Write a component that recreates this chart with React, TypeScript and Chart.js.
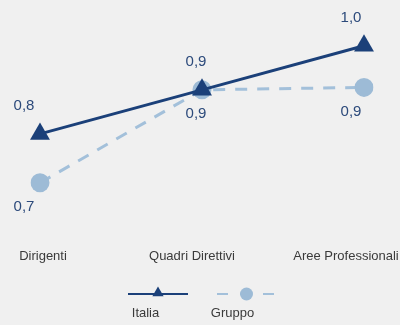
import React, { useEffect, useRef } from "react";
import { Chart, registerables } from "chart.js";

Chart.register(...registerables);

// Categories and series
const categories = ["Dirigenti", "Quadri Direttivi", "Aree Professionali"];
const italia = [0.8, 0.89, 0.98];
const gruppo = [0.7, 0.89, 0.895];
const seriesNames = ["Italia", "Gruppo"];

// Colours and fonts
const NAVY = "#1b4079";
const LIGHT = "#9dbbd6";
const LIGHT_LINE = "#a3c0da";
const VALUE_TEXT = "#2c4a7b";
const AXIS_TEXT = "#3a3a3a";
const BG = "#f0f0f0";
const FONT = "'Liberation Sans', Arial, sans-serif";

// Horizontal nudges for value labels and category labels (per category)
const valueDx = [-16, -6, -13];
const categoryDx = [3, -10, -18];

const fmt = (v: number) => v.toFixed(1).replace(".", ",");

const decorations = {
  id: "decorations",
  beforeDraw(chart: any) {
    const { ctx, width, height } = chart;
    ctx.save();
    ctx.fillStyle = BG;
    ctx.fillRect(0, 0, width, height);
    ctx.restore();
  },
  afterDraw(chart: any) {
    const { ctx } = chart;
    const x = chart.scales.x;
    ctx.save();

    // value labels: Italia above, Gruppo below
    ctx.font = `15px ${FONT}`;
    ctx.fillStyle = VALUE_TEXT;
    ctx.textAlign = "center";
    ctx.textBaseline = "middle";
    chart.data.datasets.forEach((ds: any, di: number) => {
      const meta = chart.getDatasetMeta(di);
      meta.data.forEach((pt: any, i: number) => {
        const dy = di === 0 ? -28 : 24;
        ctx.fillText(fmt(ds.data[i]), pt.x + valueDx[i], pt.y + dy);
      });
    });

    // category labels
    ctx.font = `13px ${FONT}`;
    ctx.fillStyle = AXIS_TEXT;
    categories.forEach((c, i) => {
      ctx.fillText(c, x.getPixelForValue(i) + categoryDx[i], 256);
    });

    // legend
    const ly = 294;
    // Italia
    ctx.strokeStyle = NAVY;
    ctx.lineWidth = 2;
    ctx.beginPath();
    ctx.moveTo(128, ly);
    ctx.lineTo(188, ly);
    ctx.stroke();
    const r = 6.5;
    const tx = 158;
    const ty = ly - 1;
    ctx.fillStyle = NAVY;
    ctx.beginPath();
    ctx.moveTo(tx, ty - r);
    ctx.lineTo(tx + r * Math.sin((2 * Math.PI) / 3), ty - r * Math.cos((2 * Math.PI) / 3));
    ctx.lineTo(tx + r * Math.sin((4 * Math.PI) / 3), ty - r * Math.cos((4 * Math.PI) / 3));
    ctx.closePath();
    ctx.fill();
    // Gruppo
    ctx.strokeStyle = LIGHT_LINE;
    ctx.lineWidth = 2;
    ctx.setLineDash([11, 12]);
    ctx.beginPath();
    ctx.moveTo(217, ly);
    ctx.lineTo(275, ly);
    ctx.stroke();
    ctx.setLineDash([]);
    ctx.fillStyle = LIGHT;
    ctx.beginPath();
    ctx.arc(246.5, ly, 6.5, 0, Math.PI * 2);
    ctx.fill();

    ctx.fillStyle = AXIS_TEXT;
    ctx.font = `13px ${FONT}`;
    ctx.fillText(seriesNames[0], 145.5, 313);
    ctx.fillText(seriesNames[1], 232.5, 313);

    ctx.restore();
  },
};

export default function App() {
  const ref = useRef<HTMLCanvasElement>(null);

  useEffect(() => {
    document.body.style.margin = "0";
    document.body.style.background = BG;
    const chart = new Chart(ref.current as HTMLCanvasElement, {
      type: "line",
      data: {
        labels: categories,
        datasets: [
          {
            label: seriesNames[0],
            data: italia,
            borderColor: NAVY,
            backgroundColor: NAVY,
            borderWidth: 3,
            pointStyle: "triangle",
            pointRadius: 11.5,
            pointBorderWidth: 0,
            pointBackgroundColor: NAVY,
            tension: 0,
          },
          {
            label: seriesNames[1],
            data: gruppo,
            borderColor: LIGHT_LINE,
            backgroundColor: LIGHT,
            borderWidth: 3,
            borderDash: [12, 10],
            pointStyle: "circle",
            pointRadius: 9.5,
            pointBorderWidth: 0,
            pointBackgroundColor: LIGHT,
            tension: 0,
          },
        ],
      },
      options: {
        responsive: false,
        animation: false,
        events: [],
        layout: { padding: { left: 40, right: 36, top: 9, bottom: 103 } },
        plugins: { legend: { display: false }, tooltip: { enabled: false } },
        scales: {
          x: { display: false, offset: false },
          y: { display: false, min: 0.62, max: 1.05 },
        },
      },
      plugins: [decorations],
    });
    return () => chart.destroy();
  }, []);

  return (
    <div style={{ position: "fixed", left: 0, top: 0, width: 400, height: 325, background: BG }}>
      <canvas ref={ref} width={400} height={325} />
    </div>
  );
}
